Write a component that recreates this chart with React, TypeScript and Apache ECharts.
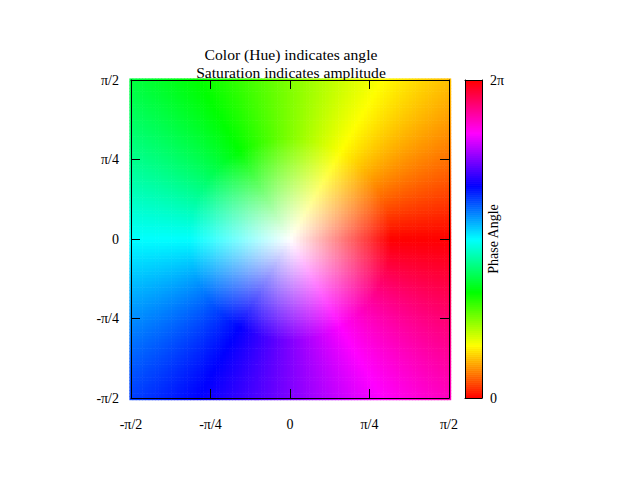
import React, { useEffect, useRef } from "react";
import * as echarts from "echarts";

// ---- data / definitions ----
const RANGE_MIN = -Math.PI / 2;
const RANGE_MAX = Math.PI / 2;
const TICK_STEP = Math.PI / 4;
const SAMPLES = 100; // grid resolution of the sampled image (both directions)
const axisTickLabels = ["-π/2", "-π/4", "0", "π/4", "π/2"];
const cbTickLabels = ["0", "2π"];
const titleLines = ["Color (Hue) indicates angle", "Saturation indicates amplitude"];
const cbLabel = "Phase Angle";
const CB_STEPS = 160;

const FONT = "Liberation Serif";

// sample coordinates of the plotted complex plane z = x + i y
const sampleCoords: number[] = Array.from(
  { length: SAMPLES },
  (_, i) => RANGE_MIN + (i * (RANGE_MAX - RANGE_MIN)) / (SAMPLES - 1)
);
const CELL = (RANGE_MAX - RANGE_MIN) / (SAMPLES - 1);

// each item: [x, y, phase (0..2π), amplitude]
const imageData: number[][] = [];
for (const y of sampleCoords) {
  for (const x of sampleCoords) {
    const phase = Math.PI + Math.atan2(-y, -x);
    const amp = Math.sqrt(x * x + y * y);
    imageData.push([x, y, phase, amp]);
  }
}

const cbData: number[][] = Array.from({ length: CB_STEPS }, (_, i) => [
  (i * 2 * Math.PI) / CB_STEPS,
  ((i + 1) * 2 * Math.PI) / CB_STEPS,
]);

function hsvToRgb(h: number, s: number, v: number): string {
  h = ((h % 1) + 1) % 1;
  const i = Math.floor(h * 6);
  const f = h * 6 - i;
  const p = v * (1 - s);
  const q = v * (1 - f * s);
  const t = v * (1 - (1 - f) * s);
  let r = 0, g = 0, b = 0;
  switch (i % 6) {
    case 0: r = v; g = t; b = p; break;
    case 1: r = q; g = v; b = p; break;
    case 2: r = p; g = v; b = t; break;
    case 3: r = p; g = q; b = v; break;
    case 4: r = t; g = p; b = v; break;
    default: r = v; g = p; b = q; break;
  }
  return `rgb(${Math.round(r * 255)},${Math.round(g * 255)},${Math.round(b * 255)})`;
}

const tickFmt = (v: number) => {
  const idx = Math.round((v - RANGE_MIN) / TICK_STEP);
  return axisTickLabels[idx] ?? "";
};

export default function App() {
  const ref = useRef<HTMLDivElement>(null);
  useEffect(() => {
    if (!ref.current) return;
    const chart = echarts.init(ref.current, undefined, { renderer: "svg" });
    const black = "#000";
    const tickStyle = { inside: true, length: 9, lineStyle: { color: black, width: 1 } };
    const lineStyle = { show: true, onZero: false, lineStyle: { color: black, width: 1 } };
    const labelStyle = { color: black, fontFamily: FONT, fontSize: 14 };

    const mainAxisBase = {
      type: "value" as const,
      min: RANGE_MIN,
      max: RANGE_MAX,
      interval: TICK_STEP,
      gridIndex: 0,
      splitLine: { show: false },
      axisLine: lineStyle,
      axisTick: tickStyle,
      z: 10,
    };

    chart.setOption({
      animation: false,
      backgroundColor: "#fff",
      title: {
        text: titleLines.join("\n"),
        left: 286,
        top: 40,
        textAlign: "center",
        textStyle: {
          color: black,
          fontFamily: FONT,
          fontSize: 15.6,
          fontWeight: "normal",
          lineHeight: 18,
        },
      },
      grid: [
        { left: 131, top: 80, width: 318, height: 318 },
        { left: 465, top: 80, width: 17, height: 318 },
      ],
      xAxis: [
        {
          ...mainAxisBase,
          position: "bottom",
          axisLabel: { ...labelStyle, margin: 19, formatter: tickFmt },
        },
        {
          ...mainAxisBase,
          position: "top",
          axisLabel: { show: false },
        },
        {
          type: "value", gridIndex: 1, min: 0, max: 1, position: "bottom",
          axisLine: lineStyle, axisTick: { show: false }, axisLabel: { show: false },
          splitLine: { show: false }, z: 10,
        },
        {
          type: "value", gridIndex: 1, min: 0, max: 1, position: "top",
          axisLine: lineStyle, axisTick: { show: false }, axisLabel: { show: false },
          splitLine: { show: false }, z: 10,
        },
      ],
      yAxis: [
        {
          ...mainAxisBase,
          position: "left",
          axisLabel: { ...labelStyle, margin: 12, formatter: tickFmt },
        },
        {
          ...mainAxisBase,
          position: "right",
          axisLabel: { show: false },
        },
        {
          type: "value", gridIndex: 1, min: 0, max: 1, position: "left",
          axisLine: lineStyle, axisTick: { show: false }, axisLabel: { show: false },
          splitLine: { show: false }, z: 10,
        },
        {
          type: "value", gridIndex: 1, min: 0, max: 2 * Math.PI, interval: 2 * Math.PI,
          position: "right",
          axisLine: lineStyle, axisTick: { show: false },
          axisLabel: {
            ...labelStyle,
            margin: 8,
            formatter: (v: number) => (v < 1 ? cbTickLabels[0] : cbTickLabels[1]),
          },
          splitLine: { show: false },
          name: cbLabel,
          nameLocation: "middle",
          nameRotate: 90,
          nameGap: 4,
          nameMoveOverlap: false,
          nameTextStyle: { color: black, fontFamily: FONT, fontSize: 14 },
          z: 10,
        },
      ],
      series: [
        {
          type: "custom",
          xAxisIndex: 0,
          yAxisIndex: 0,
          clip: true,
          silent: true,
          data: imageData,
          renderItem: (params: any, api: any) => {
            const x = api.value(0);
            const y = api.value(1);
            const p0 = api.coord([x - CELL / 2, y + CELL / 2]);
            const p1 = api.coord([x + CELL / 2, y - CELL / 2]);
            const hue = api.value(2) / (2 * Math.PI);
            const sat = Math.min(1, api.value(3));
            return {
              type: "rect",
              shape: {
                x: p0[0],
                y: p0[1],
                width: p1[0] - p0[0] + 0.6,
                height: p1[1] - p0[1] + 0.6,
              },
              style: { fill: hsvToRgb(hue, sat, 1) },
            };
          },
        },
        {
          type: "custom",
          xAxisIndex: 2,
          yAxisIndex: 3,
          clip: true,
          silent: true,
          data: cbData,
          renderItem: (params: any, api: any) => {
            const v0 = api.value(0);
            const v1 = api.value(1);
            const a = api.coord([0, v1]);
            const b = api.coord([1, v0]);
            return {
              type: "rect",
              shape: { x: a[0], y: a[1], width: b[0] - a[0], height: b[1] - a[1] + 0.6 },
              style: { fill: hsvToRgb((v0 + v1) / 2 / (2 * Math.PI), 1, 1) },
            };
          },
        },
      ],
    });
    return () => chart.dispose();
  }, []);
  return (
    <div
      ref={ref}
      style={{ position: "absolute", left: 0, top: 0, width: 640, height: 480 }}
    />
  );
}
